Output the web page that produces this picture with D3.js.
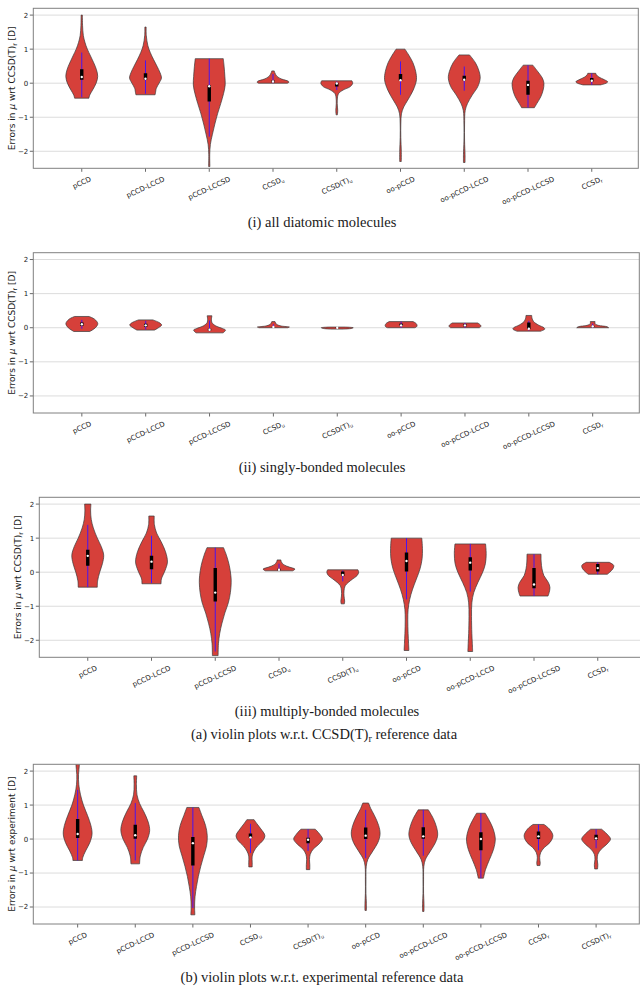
<!DOCTYPE html>
<html>
<head>
<meta charset="utf-8">
<script src="https://cdn.jsdelivr.net/npm/d3@7/dist/d3.min.js"></script>
<style>
	body { margin: 0; background: #fff; }
	.tick-label { font-family: 'DejaVu Sans', sans-serif; font-size: 7px; fill: #1a1a1a; }
	.axis-title { font-family: 'DejaVu Sans', sans-serif; font-size: 9px; fill: #1a1a1a; }
	.caption { font-family: 'Liberation Serif', serif; font-size: 14.5px; fill: #1a1a1a; }
</style>
</head>
<body>
<div id="js_chart"></div>
<script>
/*globals d3*/
'use strict';

// categories (a trailing _x is a subscript)
const catsRef = ['pCCD', 'pCCD-LCCD', 'pCCD-LCCSD', 'CCSD_u', 'CCSD(T)_u', 'oo-pCCD', 'oo-pCCD-LCCD', 'oo-pCCD-LCCSD', 'CCSD_r'];
const catsExp = catsRef.concat(['CCSD(T)_r']);
const yTicks = [-2, -1, 0, 1, 2];

// violin outlines: [error, relative half width]
// stats: [whisker low, q1, median, q3, whisker high]
const shapesDiatomic = [
	[[-0.44, 0.45], [-0.35, 0.5], [-0.2, 0.68], [0, 0.9], [0.2, 1], [0.4, 0.92], [0.6, 0.75], [0.8, 0.55], [1.0, 0.35], [1.2, 0.2], [1.4, 0.1], [1.7, 0.05], [2.0, 0.04]],
	[[-0.34, 0.6], [-0.3, 0.62], [-0.15, 0.68], [0, 0.85], [0.15, 1], [0.3, 0.92], [0.5, 0.72], [0.7, 0.5], [0.9, 0.3], [1.1, 0.15], [1.4, 0.05], [1.65, 0.04]],
	[[-2.45, 0.04], [-2.1, 0.03], [-1.8, 0.07], [-1.5, 0.2], [-1.2, 0.35], [-0.9, 0.52], [-0.6, 0.72], [-0.3, 0.9], [-0.05, 1], [0.2, 0.98], [0.5, 0.93], [0.72, 0.88]],
	[[0, 0.9], [0.03, 1], [0.06, 0.95], [0.12, 0.55], [0.2, 0.25], [0.3, 0.12], [0.36, 0.08]],
	[[-0.93, 0.04], [-0.8, 0.06], [-0.6, 0.03], [-0.4, 0.05], [-0.3, 0.12], [-0.2, 0.4], [-0.1, 0.85], [0, 1], [0.07, 0.95]],
	[[-2.3, 0.05], [-2.0, 0.05], [-1.6, 0.02], [-1.2, 0.02], [-0.9, 0.06], [-0.7, 0.2], [-0.5, 0.45], [-0.2, 0.8], [0.1, 1], [0.35, 0.95], [0.6, 0.78], [0.8, 0.55], [1.0, 0.28]],
	[[-2.33, 0.05], [-2.1, 0.05], [-1.7, 0.02], [-1.2, 0.02], [-0.8, 0.06], [-0.6, 0.2], [-0.35, 0.5], [-0.1, 0.85], [0.15, 1], [0.35, 0.93], [0.6, 0.7], [0.83, 0.33]],
	[[-0.72, 0.4], [-0.6, 0.55], [-0.4, 0.8], [-0.2, 0.95], [0, 1], [0.15, 0.9], [0.35, 0.6], [0.53, 0.3]],
	[[-0.05, 0.55], [0, 0.9], [0.04, 1], [0.1, 0.8], [0.18, 0.45], [0.24, 0.3], [0.29, 0.25]]
];
const statsDiatomic = [
	[-0.41, 0.1, 0.18, 0.41, 0.9],
	[-0.31, 0.1, 0.13, 0.29, 0.67],
	[-1.57, -0.54, -0.09, -0.06, 0.72],
	[0, 0.03, 0.05, 0.08, 0.27],
	[-0.2, -0.1, -0.01, 0.01, 0.05],
	[-0.34, 0.07, 0.09, 0.27, 0.64],
	[-0.22, 0.08, 0.1, 0.22, 0.49],
	[-0.72, -0.34, -0.05, 0.07, 0.53],
	[-0.05, 0.05, 0.07, 0.15, 0.29]
];

const shapesSingle = [
	[[-0.11, 0.5], [0, 0.85], [0.12, 1], [0.25, 0.8], [0.33, 0.45]],
	[[-0.07, 0.55], [0, 0.8], [0.08, 1], [0.15, 0.85], [0.23, 0.45]],
	[[-0.15, 0.85], [-0.07, 1], [-0.02, 0.8], [0.05, 0.4], [0.15, 0.15], [0.25, 0.12], [0.35, 0.15]],
	[[0, 0.9], [0.02, 1], [0.05, 0.5], [0.1, 0.2], [0.18, 0.1]],
	[[-0.04, 0.4], [-0.02, 0.9], [0, 1], [0.02, 0.5]],
	[[0, 0.85], [0.02, 0.95], [0.06, 1], [0.12, 0.95], [0.18, 0.75]],
	[[0, 0.9], [0.04, 1], [0.08, 0.97], [0.14, 0.8]],
	[[-0.1, 0.75], [-0.04, 1], [0, 0.95], [0.08, 0.6], [0.18, 0.3], [0.28, 0.2], [0.36, 0.18]],
	[[0, 1], [0.03, 0.9], [0.07, 0.35], [0.12, 0.15], [0.18, 0.15]]
];
const statsSingle = [
	[-0.03, 0.06, 0.1, 0.15, 0.23],
	[-0.05, 0.03, 0.07, 0.12, 0.2],
	[-0.1, -0.08, -0.06, -0.03, 0.21],
	[0, 0.01, 0.02, 0.03, 0.1],
	[-0.02, -0.01, 0, 0.01, 0.02],
	[0, 0.05, 0.07, 0.12, 0.18],
	[0, 0.04, 0.07, 0.1, 0.14],
	[-0.08, -0.04, -0.03, 0.15, 0.2],
	[0, 0.02, 0.04, 0.06, 0.12]
];

const shapesMultiple = [
	[[-0.44, 0.6], [-0.25, 0.62], [0, 0.75], [0.25, 0.92], [0.5, 1], [0.75, 0.85], [1.0, 0.6], [1.3, 0.35], [1.55, 0.22], [1.8, 0.18], [2.0, 0.2]],
	[[-0.34, 0.6], [-0.2, 0.62], [0.05, 0.85], [0.3, 1], [0.6, 0.88], [0.9, 0.6], [1.15, 0.32], [1.4, 0.18], [1.65, 0.17]],
	[[-2.45, 0.18], [-2.1, 0.2], [-1.8, 0.28], [-1.5, 0.42], [-1.2, 0.6], [-0.9, 0.82], [-0.6, 0.95], [-0.3, 1], [-0.1, 0.98], [0.2, 0.88], [0.5, 0.7], [0.72, 0.52]],
	[[0.04, 0.85], [0.09, 1], [0.15, 0.65], [0.22, 0.3], [0.3, 0.15], [0.36, 0.12]],
	[[-0.93, 0.1], [-0.85, 0.12], [-0.7, 0.08], [-0.55, 0.08], [-0.4, 0.15], [-0.3, 0.35], [-0.2, 0.62], [-0.1, 0.9], [0, 1], [0.07, 0.95]],
	[[-2.3, 0.15], [-2.1, 0.13], [-1.8, 0.1], [-1.4, 0.08], [-1.1, 0.1], [-0.8, 0.2], [-0.5, 0.38], [-0.2, 0.62], [0.1, 0.85], [0.4, 0.98], [0.7, 1], [1.0, 0.96]],
	[[-2.33, 0.15], [-2.1, 0.13], [-1.8, 0.1], [-1.3, 0.08], [-0.9, 0.1], [-0.6, 0.22], [-0.3, 0.48], [0, 0.78], [0.25, 0.95], [0.55, 1], [0.83, 0.96]],
	[[-0.7, 0.88], [-0.6, 0.95], [-0.45, 1], [-0.3, 0.9], [-0.1, 0.62], [0.1, 0.5], [0.3, 0.45], [0.53, 0.44]],
	[[-0.06, 0.6], [0, 0.75], [0.1, 0.95], [0.2, 1], [0.29, 0.72]]
];
const statsMultiple = [
	[-0.44, 0.19, 0.48, 0.66, 1.39],
	[-0.32, 0.09, 0.31, 0.48, 1.07],
	[-2.33, -0.86, -0.6, 0.12, 0.72],
	[0.05, 0.06, 0.07, 0.1, 0.25],
	[-0.27, -0.11, -0.08, 0.02, 0.05],
	[-0.8, 0.02, 0.33, 0.58, 1.0],
	[-0.57, 0.05, 0.28, 0.44, 0.83],
	[-0.7, -0.47, -0.36, 0.12, 0.53],
	[-0.06, 0.02, 0.12, 0.24, 0.29]
];

const shapesExperiment = [
	[[-0.63, 0.33], [-0.55, 0.35], [-0.35, 0.55], [-0.1, 0.85], [0.15, 1], [0.4, 0.92], [0.7, 0.68], [1.0, 0.4], [1.3, 0.2], [1.6, 0.08], [1.9, 0.06], [2.2, 0.12], [2.45, 0.1]],
	[[-0.73, 0.3], [-0.5, 0.35], [-0.25, 0.55], [0, 0.85], [0.25, 1], [0.5, 0.9], [0.8, 0.6], [1.05, 0.3], [1.3, 0.12], [1.6, 0.08], [1.86, 0.1]],
	[[-2.23, 0.14], [-2.0, 0.12], [-1.7, 0.15], [-1.4, 0.25], [-1.1, 0.38], [-0.8, 0.55], [-0.5, 0.75], [-0.2, 0.95], [0.1, 1], [0.4, 0.88], [0.7, 0.62], [0.93, 0.42]],
	[[-0.82, 0.12], [-0.7, 0.12], [-0.5, 0.12], [-0.35, 0.25], [-0.2, 0.5], [-0.05, 0.85], [0.1, 1], [0.3, 0.72], [0.45, 0.45], [0.57, 0.25]],
	[[-0.9, 0.12], [-0.75, 0.12], [-0.6, 0.1], [-0.45, 0.15], [-0.3, 0.35], [-0.15, 0.75], [0, 1], [0.15, 0.8], [0.29, 0.5]],
	[[-2.1, 0.05], [-1.9, 0.05], [-1.6, 0.02], [-1.2, 0.02], [-0.8, 0.04], [-0.6, 0.15], [-0.35, 0.5], [-0.1, 0.85], [0.15, 1], [0.4, 0.9], [0.7, 0.6], [0.9, 0.35], [1.06, 0.2]],
	[[-2.13, 0.05], [-1.9, 0.05], [-1.6, 0.02], [-1.2, 0.02], [-0.8, 0.04], [-0.6, 0.15], [-0.35, 0.5], [-0.1, 0.85], [0.12, 1], [0.35, 0.92], [0.6, 0.7], [0.86, 0.35]],
	[[-1.15, 0.18], [-0.9, 0.32], [-0.6, 0.6], [-0.3, 0.88], [0, 1], [0.3, 0.85], [0.55, 0.58], [0.76, 0.3]],
	[[-0.78, 0.1], [-0.7, 0.12], [-0.55, 0.08], [-0.4, 0.15], [-0.25, 0.4], [-0.1, 0.8], [0.1, 1], [0.3, 0.75], [0.43, 0.38]],
	[[-0.88, 0.1], [-0.75, 0.12], [-0.6, 0.08], [-0.45, 0.12], [-0.3, 0.35], [-0.15, 0.75], [0, 1], [0.15, 0.75], [0.29, 0.38]]
];
const statsExperiment = [
	[-0.63, 0.03, 0.15, 0.59, 1.45],
	[-0.63, 0.01, 0.11, 0.42, 1.06],
	[-2.03, -0.78, -0.12, 0.06, 0.93],
	[-0.41, 0.03, 0.05, 0.16, 0.45],
	[-0.35, -0.12, -0.02, 0.04, 0.29],
	[-0.56, 0, 0.1, 0.34, 0.86],
	[-0.49, 0.01, 0.08, 0.35, 0.86],
	[-1.15, -0.33, 0, 0.2, 0.76],
	[-0.33, 0, 0.08, 0.22, 0.43],
	[-0.27, -0.02, 0.02, 0.13, 0.29]
];

const width = 640;
const height = 988;
const violinFill = '#d6403a';
const violinEdge = '#3a3a3a';
const whiskerColor = '#4a14ee';
const gridColor = '#dcdcdc';
const frameColor = '#808080';
const labelAngle = 25;
const tickSize = 7;

const panels = [
	{ left: 33.3, top: 8.3, w: 605, h: 160, cats: catsRef, shapes: shapesDiatomic, stats: statsDiatomic, xDomain: [0.24, 9.73], title: 'ref' },
	{ left: 33.3, top: 252.7, w: 606, h: 160.3, cats: catsRef, shapes: shapesSingle, stats: statsSingle, xDomain: [0.24, 9.73], title: 'ref' },
	{ left: 39.3, top: 497.3, w: 605, h: 160, cats: catsRef, shapes: shapesMultiple, stats: statsMultiple, xDomain: [0.24, 9.73], title: 'ref' },
	{ left: 33.3, top: 764.3, w: 606, h: 159.7, cats: catsExp, shapes: shapesExperiment, stats: statsExperiment, xDomain: [0.23, 10.75], title: 'exp' }
];

const captions = [
	{ x: 322, y: 227, parts: [['(i) all diatomic molecules']] },
	{ x: 322, y: 472, parts: [['(ii) singly-bonded molecules']] },
	{ x: 327, y: 716, parts: [['(iii) multiply-bonded molecules']] },
	{ x: 324, y: 739, parts: [['(a) violin plots w.r.t. CCSD(T)'], ['r', 'sub'], [' reference data']] },
	{ x: 322, y: 982, parts: [['(b) violin plots w.r.t. experimental reference data']] }
];

const svg = d3.select('#js_chart').append('svg')
	.attr('width', width)
	.attr('height', height)
	.style('background', '#fff');

// writes [text, style] parts into a text node, handling subscripts and italics
function writeParts(textSel, parts, fontSize) {
	let shifted = false;
	parts.forEach(function (p) {
		let t = textSel.append('tspan').text(p[0]);
		if (p[1] === 'sub') {
			t.attr('font-size', fontSize * 0.7).attr('dy', fontSize * 0.22);
			shifted = true;
		} else {
			if (shifted) {
				t.attr('dy', -fontSize * 0.22);
				shifted = false;
			}
			if (p[1] === 'it') t.style('font-style', 'italic');
		}
	});
}

function catParts(name) {
	let i = name.lastIndexOf('_');
	if (i < 0) return [[name]];
	return [[name.slice(0, i)], [name.slice(i + 1), 'sub']];
}

function drawPanel(p, idx) {
	let x = d3.scaleLinear().domain(p.xDomain).range([p.left, p.left + p.w]);
	let y = d3.scaleLinear().domain([-2.5, 2.2]).range([p.top + p.h, p.top]);
	let half = (x(2) - x(1)) * 0.25;
	let g = svg.append('g');

	let clipId = 'clip' + idx;
	svg.append('clipPath').attr('id', clipId)
		.append('rect')
		.attr('x', p.left).attr('y', p.top)
		.attr('width', p.w).attr('height', p.h);

	// grid
	g.selectAll('.grid').data(yTicks).enter().append('line')
		.attr('x1', p.left).attr('x2', p.left + p.w)
		.attr('y1', function (d) { return y(d); })
		.attr('y2', function (d) { return y(d); })
		.style('stroke', gridColor)
		.style('stroke-width', 1);

	let plot = g.append('g').attr('clip-path', 'url(#' + clipId + ')');

	p.shapes.forEach(function (shape, i) {
		let cx = x(i + 1);
		let area = d3.area()
			.curve(d3.curveCatmullRom.alpha(0.5))
			.y(function (d) { return y(d[0]); })
			.x0(function (d) { return cx - d[1] * half; })
			.x1(function (d) { return cx + d[1] * half; });
		plot.append('path')
			.datum(shape)
			.attr('d', area)
			.style('fill', violinFill)
			.style('stroke', violinEdge)
			.style('stroke-width', 0.7);

		let s = p.stats[i];
		plot.append('line')
			.attr('x1', cx).attr('x2', cx)
			.attr('y1', y(s[0])).attr('y2', y(s[4]))
			.style('stroke', whiskerColor)
			.style('stroke-width', 1);
		plot.append('line')
			.attr('x1', cx).attr('x2', cx)
			.attr('y1', y(s[1])).attr('y2', y(s[3]))
			.style('stroke', '#000')
			.style('stroke-width', 3.4);
		plot.append('circle')
			.attr('cx', cx).attr('cy', y(s[2]))
			.attr('r', 1.2)
			.style('fill', '#fff');
	});

	// y ticks
	yTicks.forEach(function (t) {
		g.append('line')
			.attr('x1', p.left - 3.5).attr('x2', p.left)
			.attr('y1', y(t)).attr('y2', y(t))
			.style('stroke', '#444').style('stroke-width', 0.8);
		g.append('text')
			.attr('class', 'tick-label')
			.attr('x', p.left - 5)
			.attr('y', y(t))
			.attr('dy', '0.35em')
			.attr('text-anchor', 'end')
			.text(t < 0 ? '\u2212' + Math.abs(t) : String(t));
	});

	// x ticks with rotated labels
	let bottom = p.top + p.h;
	let rad = labelAngle * Math.PI / 180;
	p.cats.forEach(function (c, i) {
		let cx = x(i + 1);
		g.append('line')
			.attr('x1', cx).attr('x2', cx)
			.attr('y1', bottom).attr('y2', bottom + 3.5)
			.style('stroke', '#444').style('stroke-width', 0.8);
		let lg = g.append('g');
		let t = lg.append('text')
			.attr('class', 'tick-label')
			.attr('x', 0).attr('y', 0)
			.attr('dy', '0.35em')
			.attr('text-anchor', 'middle');
		writeParts(t, catParts(c), tickSize);
		let tw = t.node().getComputedTextLength();
		let bh = tw * Math.sin(rad) + tickSize * Math.cos(rad);
		let cy = bottom + 7 + bh / 2;
		lg.attr('transform', 'translate(' + cx + ',' + cy + ') rotate(' + (-labelAngle) + ')');
	});

	// y title
	let ty = p.top + p.h / 2;
	let tx = p.left - 21.5;
	let tg = g.append('g').attr('transform', 'translate(' + tx + ',' + ty + ') rotate(-90)');
	let title = tg.append('text')
		.attr('class', 'axis-title')
		.attr('text-anchor', 'middle')
		.attr('x', 0).attr('y', 0)
		.attr('dy', '0.35em');
	if (p.title === 'ref') {
		writeParts(title, [['Errors in '], ['\u03bc', 'it'], [' wrt CCSD(T)'], ['r', 'sub'], [' [D]']], 9);
	} else {
		writeParts(title, [['Errors in '], ['\u03bc', 'it'], [' wrt experiment [D]']], 9);
	}

	g.append('rect')
		.attr('x', p.left).attr('y', p.top)
		.attr('width', p.w).attr('height', p.h)
		.style('fill', 'none')
		.style('stroke', frameColor)
		.style('stroke-width', 1);
}

panels.forEach(drawPanel);

captions.forEach(function (c) {
	let t = svg.append('text')
		.attr('class', 'caption')
		.attr('x', c.x).attr('y', c.y)
		.attr('text-anchor', 'middle');
	writeParts(t, c.parts, 14.5);
});
</script>
</body>
</html>
